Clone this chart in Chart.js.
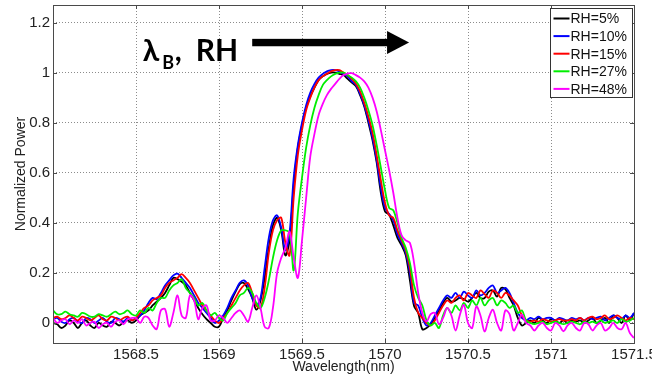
<!DOCTYPE html>
<html><head><meta charset="utf-8">
<script src="https://cdn.jsdelivr.net/npm/chart.js@4.4.1/dist/chart.umd.min.js"></script>
<style>html,body{margin:0;padding:0;background:#fff;overflow:hidden}#wrap{width:652px;height:378px;position:relative}</style>
</head><body><div id="wrap"><canvas id="c" width="652" height="378"></canvas></div>
<script>
// ---- data ----
const wavelength = [
1568,1568.025,1568.05,1568.075,1568.1,1568.125,1568.15,1568.175,1568.2,1568.225,
1568.25,1568.275,1568.3,1568.325,1568.35,1568.375,1568.4,1568.425,1568.45,1568.475,
1568.5,1568.525,1568.55,1568.575,1568.6,1568.625,1568.65,1568.675,1568.7,1568.725,
1568.75,1568.775,1568.8,1568.825,1568.85,1568.875,1568.9,1568.925,1568.95,1568.975,
1569,1569.025,1569.05,1569.075,1569.1,1569.125,1569.15,1569.175,1569.2,1569.225,
1569.25,1569.275,1569.3,1569.325,1569.35,1569.375,1569.4,1569.425,1569.45,1569.475,
1569.5,1569.525,1569.55,1569.575,1569.6,1569.625,1569.65,1569.675,1569.7,1569.725,
1569.75,1569.775,1569.8,1569.825,1569.85,1569.875,1569.9,1569.925,1569.95,1569.975,
1570,1570.025,1570.05,1570.075,1570.1,1570.125,1570.15,1570.175,1570.2,1570.225,
1570.25,1570.275,1570.3,1570.325,1570.35,1570.375,1570.4,1570.425,1570.45,1570.475,
1570.5,1570.525,1570.55,1570.575,1570.6,1570.625,1570.65,1570.675,1570.7,1570.725,
1570.75,1570.775,1570.8,1570.825,1570.85,1570.875,1570.9,1570.925,1570.95,1570.975,
1571,1571.025,1571.05,1571.075,1571.1,1571.125,1571.15,1571.175,1571.2,1571.225,
1571.25,1571.275,1571.3,1571.325,1571.35,1571.375,1571.4,1571.425,1571.45,1571.475,
1571.5];

const rh5 = [
0.0,-0.005,-0.02,-0.01,0.01,0.0,-0.02,0.0,0.01,-0.01,
-0.02,0.0,-0.01,-0.015,0.005,0.0,-0.01,0.005,0.01,0.0,
0.01,0.03,0.04,0.05,0.07,0.085,0.1,0.12,0.15,0.18,
0.175,0.165,0.15,0.12,0.09,0.06,0.035,0.015,0.0,-0.015,
-0.015,0.02,0.05,0.09,0.125,0.155,0.16,0.135,0.1,0.053,
0.09,0.18,0.3,0.39,0.42,0.37,0.27,0.33,0.55,0.7,
0.79,0.86,0.905,0.94,0.97,0.985,0.995,1.0,1.0,0.995,
0.99,0.975,0.96,0.945,0.91,0.865,0.8,0.73,0.64,0.52,
0.445,0.432,0.39,0.34,0.31,0.27,0.17,0.068,0.04,-0.025,
-0.02,-0.005,0.02,0.05,0.08,0.1,0.085,0.09,0.1,0.095,
0.085,0.1,0.12,0.1,0.1,0.125,0.13,0.105,0.14,0.135,
0.1,0.07,0.02,-0.01,0.0,0.01,0.0,0.02,0.01,0.0,
0.015,0.01,0.0,0.01,0.0,0.01,0.005,0.01,0.0,0.01,
0.02,0.0,0.01,0.02,0.0,0.03,0.02,0.0,0.03,0.01,
0.04];

const rh10 = [
0.015,0.02,0.005,0.0,0.015,0.02,0.005,0.0,0.02,0.015,
0.0,0.01,0.02,0.005,0.0,0.02,0.015,0.005,0.02,0.01,
0.02,0.03,0.05,0.08,0.1,0.095,0.12,0.15,0.17,0.19,
0.197,0.18,0.16,0.14,0.11,0.08,0.06,0.04,0.02,0.0,
0.01,0.03,0.06,0.1,0.13,0.16,0.17,0.15,0.1,0.07,
0.1,0.22,0.34,0.41,0.43,0.38,0.29,0.36,0.58,0.71,
0.8,0.87,0.92,0.955,0.98,0.995,1.005,1.01,1.01,1.005,
0.995,0.985,0.965,0.95,0.915,0.87,0.81,0.74,0.65,0.54,
0.46,0.435,0.41,0.355,0.32,0.28,0.2,0.08,0.07,0.02,
-0.01,0.0,0.03,0.06,0.09,0.11,0.1,0.12,0.1,0.125,
0.11,0.1,0.13,0.11,0.12,0.14,0.15,0.12,0.13,0.14,
0.12,0.08,0.04,0.02,0.01,0.02,0.015,0.025,0.015,0.02,
0.02,0.01,0.02,0.015,0.01,0.02,0.015,0.02,0.01,0.02,
0.015,0.02,0.025,0.01,0.02,0.03,0.02,0.015,0.03,0.02,
0.04];

const rh15 = [
0.02,0.025,0.015,0.02,0.03,0.02,0.01,0.025,0.02,0.01,
0.02,0.03,0.015,0.01,0.025,0.02,0.01,0.02,0.025,0.01,
0.02,0.04,0.06,0.07,0.09,0.1,0.11,0.14,0.16,0.17,
0.18,0.195,0.18,0.16,0.13,0.1,0.07,0.05,0.03,0.01,
0.0,0.02,0.04,0.07,0.1,0.13,0.15,0.16,0.12,0.07,
0.06,0.14,0.28,0.37,0.41,0.42,0.32,0.27,0.5,0.67,
0.77,0.85,0.9,0.94,0.97,0.985,0.995,1.005,1.01,1.01,
1.0,0.99,0.975,0.955,0.925,0.88,0.825,0.76,0.67,0.57,
0.48,0.43,0.42,0.37,0.33,0.29,0.22,0.1,0.04,0.02,
0.0,-0.01,0.01,0.04,0.07,0.09,0.08,0.1,0.11,0.09,
0.12,0.11,0.1,0.13,0.115,0.1,0.13,0.12,0.1,0.12,
0.11,0.09,0.07,0.03,0.01,0.005,0.01,0.005,0.015,0.01,
0.005,0.01,0.015,0.01,0.01,0.015,0.01,0.02,0.01,0.02,
0.025,0.015,0.02,0.03,0.015,0.02,0.03,0.02,0.01,0.02,
0.015];

const rh27 = [
0.05,0.035,0.035,0.045,0.035,0.03,0.025,0.04,0.035,0.025,
0.025,0.035,0.03,0.025,0.035,0.045,0.035,0.04,0.05,0.035,
0.03,0.05,0.04,0.06,0.05,0.08,0.1,0.1,0.13,0.15,
0.16,0.175,0.14,0.12,0.1,0.07,0.08,0.05,0.03,0.04,
0.02,0.01,0.04,0.06,0.08,0.11,0.12,0.14,0.12,0.08,
0.06,0.1,0.17,0.26,0.33,0.37,0.37,0.36,0.21,0.44,
0.58,0.7,0.79,0.86,0.91,0.95,0.97,0.985,0.995,1.0,
1.0,0.99,0.98,0.965,0.94,0.9,0.85,0.79,0.71,0.62,
0.53,0.46,0.45,0.4,0.34,0.3,0.24,0.15,0.1,0.07,
0.01,-0.01,0.0,-0.02,0.03,0.06,0.04,0.07,0.05,0.08,
0.06,0.09,0.07,0.1,0.07,0.09,0.1,0.07,0.09,0.08,
0.06,0.07,0.04,0.05,0.01,0.0,-0.005,0.0,0.005,-0.005,
0.0,0.005,0.0,-0.005,0.0,0.005,0.0,-0.005,0.005,0.0,
0.005,0.0,0.01,0.0,0.005,0.01,0.0,0.015,0.005,0.01,
0.02];

const rh48 = [
0.02,0.0,0.01,0.015,-0.005,0.01,0.0,0.015,-0.01,0.0,
0.005,-0.02,-0.005,0.0,-0.015,0.005,0.01,-0.005,0.015,0.02,
0.02,0.0,0.025,0.02,-0.01,-0.024,0.05,0.055,-0.015,0.04,
0.11,0.03,0.02,0.11,0.09,0.015,0.06,0.07,0.01,0.01,
0.03,0.02,0.0,0.02,0.04,0.05,0.03,0.005,0.06,0.11,
0.06,-0.015,-0.02,0.06,0.2,0.26,0.3,0.365,0.26,0.18,
0.33,0.5,0.665,0.755,0.83,0.875,0.91,0.935,0.955,0.975,
0.99,0.996,0.998,0.99,0.98,0.965,0.94,0.9,0.845,0.77,
0.69,0.61,0.52,0.42,0.35,0.33,0.32,0.24,0.12,0.04,
0.006,0.035,0.04,-0.005,0.02,0.06,0.03,-0.03,0.03,0.072,
0.0,-0.02,0.066,0.03,-0.034,0.02,0.053,0.0,-0.03,0.05,
0.035,-0.03,0.0,0.033,0.0,-0.01,-0.03,-0.01,0.0,-0.02,
-0.03,0.0,-0.01,-0.033,-0.01,0.0,-0.02,-0.03,0.0,-0.005,
-0.03,-0.01,0.0,-0.03,-0.02,0.0,-0.02,-0.025,0.0,-0.04,
-0.06];

const seriesLabels = ['RH=5%','RH=10%','RH=15%','RH=27%','RH=48%'];
const seriesValues = [rh5, rh10, rh15, rh27, rh48];
const seriesColors = ['#000000','#0000ff','#ff0000','#00ee00','#ff00ff'];
const xTicks = [1568.5,1569,1569.5,1570,1570.5,1571,1571.5];
const yTicks = [0,0.2,0.4,0.6,0.8,1,1.2];
const xRange = [1568, 1571.5];
const yRange = [-0.08, 1.27];
// annotation anchors (data units)
const arrowFrom = [1569.2, 1.12];
const arrowTo = [1570.145, 1.12];
const labelAnchor = [1568.54, 1.045];

const FONT = "'Liberation Sans', Arial, sans-serif";
const NOTE_FONT = "'Lato', 'Open Sans', sans-serif";

const framePlugin = {
  id: 'frame',
  afterDatasetsDraw(chart) {
    const {ctx, chartArea: a, scales} = chart;
    ctx.save();
    ctx.strokeStyle = '#4a4a4a';
    ctx.lineWidth = 1;
    ctx.beginPath();
    xTicks.forEach(v => {
      const px = Math.round(scales.x.getPixelForValue(v)) + 0.5;
      ctx.moveTo(px, a.bottom); ctx.lineTo(px, a.bottom - 4);
      ctx.moveTo(px, a.top); ctx.lineTo(px, a.top + 4);
    });
    yTicks.forEach(v => {
      const py = Math.round(scales.y.getPixelForValue(v)) + 0.5;
      ctx.moveTo(a.left, py); ctx.lineTo(a.left + 4, py);
      ctx.moveTo(a.right, py); ctx.lineTo(a.right - 4, py);
    });
    ctx.stroke();
    ctx.strokeRect(Math.round(a.left) + 0.5, Math.round(a.top) + 0.5,
                   Math.round(a.right - a.left), Math.round(a.bottom - a.top));
    ctx.restore();
  }
};

const legendPlugin = {
  id: 'boxLegend',
  afterDraw(chart) {
    const {ctx, chartArea: a} = chart;
    const w = 82, h = 89;
    const x0 = Math.round(a.right - 2 - w) + 0.5, y0 = Math.round(a.top + 3) + 0.5;
    ctx.save();
    ctx.fillStyle = '#ffffff';
    ctx.fillRect(x0, y0, w, h);
    ctx.strokeStyle = '#333';
    ctx.lineWidth = 1;
    ctx.strokeRect(x0, y0, w, h);
    ctx.font = '14px ' + FONT;
    ctx.textBaseline = 'middle';
    ctx.textAlign = 'left';
    chart.data.datasets.forEach((ds, i) => {
      const y = y0 + 10 + i * 17.6;
      ctx.strokeStyle = ds.borderColor;
      ctx.lineWidth = 2;
      ctx.beginPath();
      ctx.moveTo(x0 + 3, y); ctx.lineTo(x0 + 19, y);
      ctx.stroke();
      ctx.fillStyle = '#111';
      ctx.fillText(ds.label, x0 + 20, y + 1);
    });
    ctx.restore();
  }
};

const annotationPlugin = {
  id: 'arrowNote',
  afterDraw(chart) {
    const {ctx, scales} = chart;
    const xs = scales.x, ys = scales.y;
    ctx.save();
    const x1 = xs.getPixelForValue(arrowFrom[0]);
    const x2 = xs.getPixelForValue(arrowTo[0]);
    const yA = ys.getPixelForValue(arrowFrom[1]);
    ctx.fillStyle = '#000';
    ctx.fillRect(x1, yA - 3.7, (x2 - 21) - x1, 7.4);
    ctx.beginPath();
    ctx.moveTo(x2 - 22, yA - 11.5);
    ctx.lineTo(x2, yA);
    ctx.lineTo(x2 - 22, yA + 11.5);
    ctx.closePath();
    ctx.fill();
    const tx = xs.getPixelForValue(labelAnchor[0]);
    const ty = ys.getPixelForValue(labelAnchor[1]);
    ctx.textBaseline = 'alphabetic';
    ctx.textAlign = 'left';
    ctx.font = "bold 30px " + NOTE_FONT;
    ctx.fillText('λ', tx, ty);
    ctx.fillText(',', tx + 32, ty);
    ctx.fillText('RH', tx + 53, ty);
    ctx.font = "bold 18px " + NOTE_FONT;
    ctx.fillText('B', tx + 19.5, ty + 8);
    ctx.restore();
  }
};

const datasets = seriesValues.map((vals, i) => ({
  label: seriesLabels[i],
  data: wavelength.map((w, k) => ({x: w, y: vals[k]})),
  borderColor: seriesColors[i],
  backgroundColor: seriesColors[i],
  borderWidth: 1.8,
  pointRadius: 0,
  tension: 0.35,
  fill: false,
  order: seriesValues.length - i
}));

new Chart(document.getElementById('c'), {
  type: 'line',
  data: { datasets },
  options: {
    responsive: false,
    animation: false,
    devicePixelRatio: 1,
    layout: { autoPadding: false, padding: { left: 0, right: 18, top: 5, bottom: 0 } },
    plugins: { legend: { display: false }, tooltip: { enabled: false } },
    scales: {
      x: {
        type: 'linear', min: xRange[0], max: xRange[1],
        afterBuildTicks: s => { s.ticks = xTicks.map(v => ({ value: v })); },
        afterFit: s => { s.height = 35; s.paddingLeft = 0; s.paddingRight = 0; s.paddingTop = 0; s.paddingBottom = 0; },
        grid: { color: '#8c8c8c', lineWidth: 1, drawTicks: false },
        border: { display: false, dash: [1, 2] },
        ticks: { font: { family: FONT, size: 15 }, color: '#222', padding: 3, maxRotation: 0, autoSkip: false,
                 callback: v => String(v) },
        title: { display: true, text: 'Wavelength(nm)', font: { family: FONT, size: 14 }, color: '#222',
                 padding: { top: 0, bottom: 2.5 } }
      },
      y: {
        type: 'linear', min: yRange[0], max: yRange[1],
        afterBuildTicks: s => { s.ticks = yTicks.map(v => ({ value: v })); },
        afterFit: s => { s.width = 53; s.paddingLeft = 0; s.paddingRight = 0; s.paddingTop = 0; s.paddingBottom = 0; },
        grid: { color: '#8c8c8c', lineWidth: 1, drawTicks: false },
        border: { display: false, dash: [1, 2] },
        ticks: { font: { family: FONT, size: 15 }, color: '#222', padding: 3, callback: v => String(v) },
        title: { display: true, text: 'Normalized Power', font: { family: FONT, size: 14 }, color: '#222',
                 padding: { top: 12.5, bottom: 0 } }
      }
    }
  },
  plugins: [framePlugin, legendPlugin, annotationPlugin]
});
</script></body></html>
